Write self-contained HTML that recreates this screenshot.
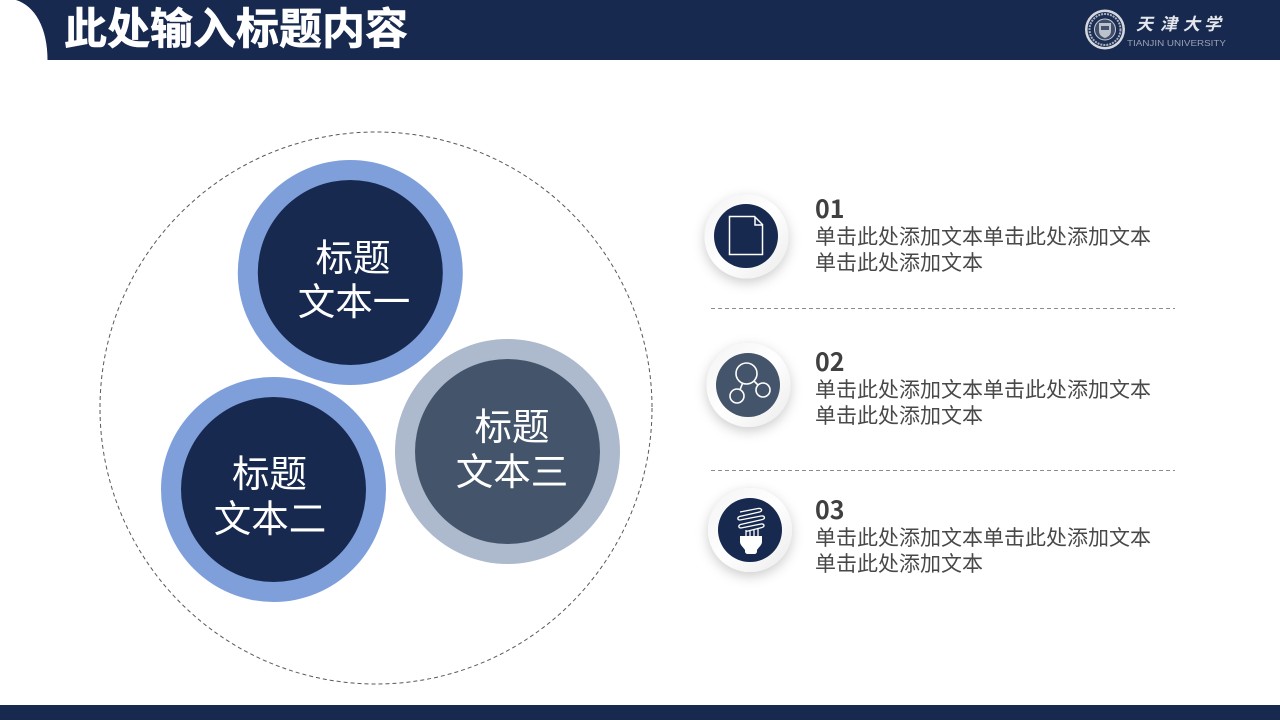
<!DOCTYPE html>
<html lang="zh-CN">
<head>
<meta charset="utf-8">
<title>此处输入标题内容</title>
<style>
html,body{margin:0;padding:0;background:#fff}
svg{display:block}
text{font-family:"Liberation Sans","Noto Sans CJK SC",sans-serif}
.cjk{font-family:"Noto Sans CJK SC","Liberation Sans",sans-serif}
</style>
</head>
<body>
<svg width="1280" height="720" viewBox="0 0 1280 720" xmlns="http://www.w3.org/2000/svg">
<defs>
<filter id="sh" x="-40%" y="-40%" width="180%" height="180%">
<feDropShadow dx="0" dy="4" stdDeviation="6" flood-color="#000" flood-opacity=".2"/>
</filter>
<linearGradient id="rim" x1="0" y1="0" x2="1" y2="1">
<stop offset="0" stop-color="#f3f3f3"/><stop offset=".5" stop-color="#ffffff"/><stop offset="1" stop-color="#ebebeb"/>
</linearGradient>
</defs>
<rect width="1280" height="720" fill="#fff"/>
<rect width="1280" height="60" fill="#17294f"/>
<path d="M0 0H16C35 6 47.500 28 47.500 60H0Z" fill="#fff"/>
<rect y="705" width="1280" height="15" fill="#17294f"/>
<text class="cjk" x="64" y="44" font-size="43" font-weight="700" fill="#fff" stroke="#fff" stroke-width=".6">此处输入标题内容</text>

<!-- logo -->
<g>
<circle cx="1105" cy="29.500" r="20" fill="#d5d9df"/>
<circle cx="1105" cy="29.500" r="17.500" fill="#1d2e54"/>
<circle cx="1105" cy="29.500" r="15.500" fill="none" stroke="#a9b0bd" stroke-width="2" stroke-dasharray="2 1"/>
<circle cx="1105" cy="29.500" r="10.500" fill="#414e6b" stroke="#c9cdd5" stroke-width="1"/>
<path d="M1099 23h12v8c0 4-3 6-6 7-3-1-6-3-6-7Z" fill="#bcc2cc"/>
<rect x="1101" y="26" width="8" height="4" fill="#45536f"/>
<g class="cjk" font-size="17" font-style="italic" font-weight="700" fill="#e4e7eb">
<text class="cjk" x="1136" y="30">天</text>
<text class="cjk" x="1160" y="30">津</text>
<text class="cjk" x="1183" y="30">大</text>
<text class="cjk" x="1204" y="30">学</text>
</g>
<text x="1127" y="46" font-size="8" fill="#9aa3b3" textLength="99" lengthAdjust="spacingAndGlyphs">TIANJIN UNIVERSITY</text>
</g>

<!-- big dashed circle -->
<circle cx="376" cy="408" r="276" fill="none" stroke="#595959" stroke-width="1" stroke-dasharray="4 3"/>

<!-- main circles -->
<circle cx="350.300" cy="272.500" r="112.500" fill="#7f9fdb"/>
<circle cx="350.300" cy="272.500" r="92.500" fill="#17294f"/>
<circle cx="273.500" cy="489.500" r="112.500" fill="#7f9fdb"/>
<circle cx="273.500" cy="489.500" r="92.500" fill="#17294f"/>
<circle cx="507.500" cy="451.500" r="112.500" fill="#adb9cc"/>
<circle cx="507.500" cy="451.500" r="92.500" fill="#44546a"/>

<g class="cjk" fill="#fff" font-size="37.500" text-anchor="middle">
<text class="cjk" x="353" y="271">标题</text>
<text class="cjk" x="354" y="315">文本一</text>
<text class="cjk" x="269.500" y="487">标题</text>
<text class="cjk" x="270" y="532">文本二</text>
<text class="cjk" x="512" y="440">标题</text>
<text class="cjk" x="512" y="485">文本三</text>
</g>

<!-- dividers -->
<line x1="711" y1="308.500" x2="1175" y2="308.500" stroke="#8c8c8c" stroke-dasharray="4 3"/>
<line x1="711" y1="470.500" x2="1175" y2="470.500" stroke="#8c8c8c" stroke-dasharray="4 3"/>

<!-- item 1 -->
<circle cx="746.500" cy="236.500" r="42" fill="url(#rim)" filter="url(#sh)"/>
<circle cx="746" cy="236" r="32" fill="#17294f"/>
<path d="M729.500 216.500h25l8 8v30h-33Z" fill="none" stroke="#fff" stroke-width="1.500"/>
<path d="M755 217v8h7.500" fill="none" stroke="#fff" stroke-width="1.500"/>

<!-- item 2 -->
<circle cx="748.500" cy="385" r="42" fill="url(#rim)" filter="url(#sh)"/>
<circle cx="748" cy="385" r="32" fill="#44546a"/>
<g fill="none" stroke="#fff" stroke-width="1.600">
<circle cx="746.500" cy="373.500" r="10.500"/>
<circle cx="737" cy="396" r="7"/>
<circle cx="763" cy="390" r="7"/>
<path d="M742.500 383.500l-2.500 6.200M754 381l4 4"/>
</g>

<!-- item 3 -->
<circle cx="750" cy="530" r="42" fill="url(#rim)" filter="url(#sh)"/>
<circle cx="750" cy="530" r="32" fill="#17294f"/>
<g fill="none" stroke="#fff" stroke-width="1.300">
<path d="M740 512l18-3.500c4-.5 5 2.500 1.500 3.500l-20 4.500c-2.500 1-2 3.500.5 3.500l21-4c4-.5 4.500 2.500 1.500 3.500l-22 5c-2.500 1-2 3.500.5 3.500l20-4c3.500-.5 4 2.500 1 3.500l-16 4"/>
<path d="M746 530v7M750 530v7M754 529v8M758 528v9"/>
</g>
<path d="M740 536h22v6c0 3-4 6-5 8v1c0 2-1 3-3 3h-6c-2 0-3-1-3-3v-1c-1-2-5-5-5-8Z" fill="#fff"/>

<!-- text blocks -->
<g fill="#484848">
<text class="cjk" x="815" y="218" font-size="25" font-weight="700" fill="#404040">01</text>
<text class="cjk" x="815" y="244" font-size="21">单击此处添加文本单击此处添加文本</text>
<text class="cjk" x="815" y="270" font-size="21">单击此处添加文本</text>
<text class="cjk" x="815" y="371" font-size="25" font-weight="700" fill="#404040">02</text>
<text class="cjk" x="815" y="397" font-size="21">单击此处添加文本单击此处添加文本</text>
<text class="cjk" x="815" y="423" font-size="21">单击此处添加文本</text>
<text class="cjk" x="815" y="519" font-size="25" font-weight="700" fill="#404040">03</text>
<text class="cjk" x="815" y="545" font-size="21">单击此处添加文本单击此处添加文本</text>
<text class="cjk" x="815" y="571" font-size="21">单击此处添加文本</text>
</g>
</svg>
</body>
</html>
